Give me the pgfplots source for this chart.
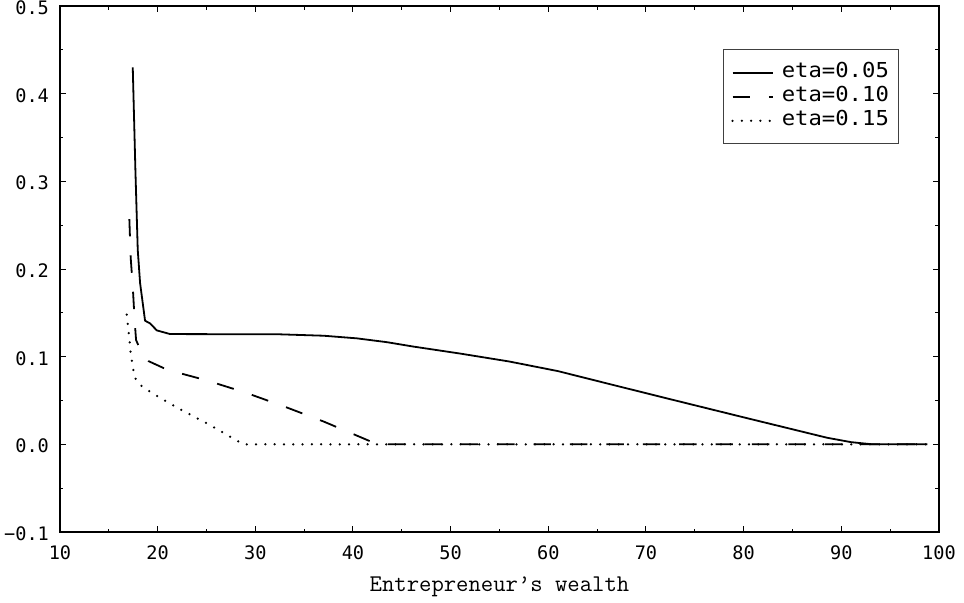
\documentclass[border=0pt]{standalone}
\usepackage{fontspec}
\usepackage{pgfplots}
\pgfplotsset{compat=1.18}
\newfontfamily\tickfont{DejaVu Sans Mono}
\newfontfamily\legfont[FakeStretch=1.08]{DejaVu Sans Mono}
\begin{document}
\begin{tikzpicture}
\begin{axis}[
  name=ax,
  scale only axis,
  width=439.5pt, height=263pt,
  xmin=10, xmax=100, ymin=-0.1, ymax=0.5,
  xtick={10,20,30,40,50,60,70,80,90,100},
  xticklabels={10,20,30,40,50,60,70,80,90,100},
  ytick={-0.1,0,0.1,0.2,0.3,0.4,0.5},
  yticklabels={−0.1,0.0,0.1,0.2,0.3,0.4,0.5},
  minor x tick num=1, minor y tick num=1,
  tick align=inside,
  major tick length=3pt, minor tick length=1.75pt,
  every tick/.style={black, line width=0.5pt},
  axis line style={line width=1.1pt},
  ticklabel style={font=\tickfont\fontsize{9.3}{10}\selectfont},
  xticklabel style={yshift=-3.2pt},
  yticklabel style={xshift=-2pt, yshift=-0.8pt},
  xlabel={\ttfamily\fontsize{12}{14}\selectfont Entrepreneur’s wealth},
  xlabel style={at={(axis description cs:0.5,0)}, anchor=base, yshift=-29.8pt},
  legend style={at={(axis description cs:0.754,0.9177)}, anchor=north west,
    draw=black!75, line width=0.5pt, fill=white,
    inner xsep=4pt, inner ysep=5.5pt, row sep=0pt, column sep=3pt,
    font=\legfont\fontsize{10.3}{12}\selectfont,
    nodes={inner sep=1pt, text height=7.5pt, text depth=2.5pt}},
  legend cell align=left,
  legend image code/.code={\draw[#1] (0pt,0pt) -- (10pt,0pt) -- (20pt,0pt);},
]
\addplot[black, line width=0.9pt, line join=round] coordinates {
(17.45,0.430) (17.72,0.313) (17.96,0.222) (18.20,0.184) (18.71,0.141)
(19.22,0.138) (19.91,0.130) (21.27,0.1258) (25,0.1257) (30,0.1256)
(32.5,0.1255) (37,0.1239) (40.4,0.1209) (43.5,0.1165) (46.2,0.1115)
(51,0.1035) (56,0.0945) (61,0.0835) (66,0.0695) (71.5,0.0542)
(80,0.0308) (88.55,0.0075) (91,0.0025) (93.2,0) (98.8,0)
};
\addlegendentry{eta=0.05}
\addplot[black, line width=0.9pt, line join=round, dash pattern=on 8.7pt off 9.5pt] coordinates {
(17.10,0.257) (17.24,0.2125) (17.45,0.180) (17.65,0.140) (17.79,0.119)
(18.37,0.104) (19.05,0.095) (21,0.085) (25,0.073) (29,0.059) (33,0.043)
(37,0.026) (40.6,0.009) (42.5,0) (98.8,0)
};
\addlegendentry{eta=0.10}
\addplot[black, line width=1.25pt, line cap=round, dash pattern=on 0pt off 4.65pt] coordinates {
(16.83,0.148) (16.94,0.136) (17.07,0.124) (17.17,0.1125) (17.27,0.101)
(17.45,0.0905) (17.6,0.077) (18.20,0.0678) (19.22,0.060) (20.17,0.0536)
(22.12,0.041) (25.03,0.024) (28.78,0) (98.8,0)
};
\addlegendentry{eta=0.15}
\end{axis}
\pgfresetboundingbox
\path[use as bounding box] (-30pt,-35pt) rectangle (452pt,266pt);
\end{tikzpicture}
\end{document}
